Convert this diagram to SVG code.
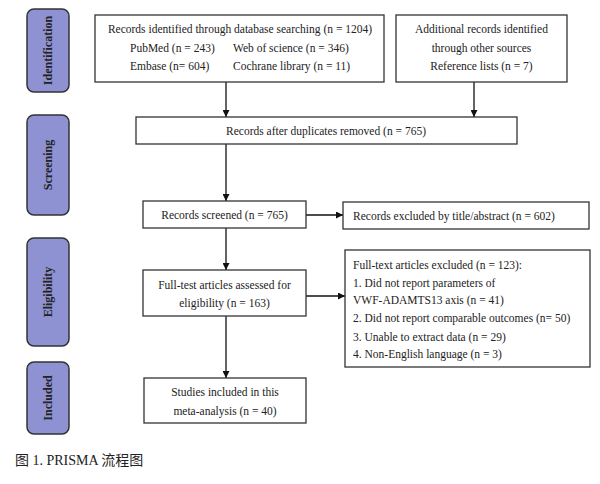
<svg xmlns="http://www.w3.org/2000/svg" width="600" height="484" viewBox="0 0 600 484">
<defs>
<style>
.box{fill:#fff;stroke:#333;stroke-width:1.3}
.lab{fill:#8e92d3;stroke:#333;stroke-width:1.5}
text{font-size:11.5px;fill:#222}
.c{text-anchor:middle}
.lt{font-weight:bold;font-size:12px;text-anchor:middle}
.edge{stroke:#111;stroke-width:1.3;fill:none;marker-end:url(#ah)}
.cap{font-size:14px}
</style>
<marker id="ah" viewBox="0 0 10 10" refX="10" refY="5" markerWidth="7" markerHeight="7" markerUnits="userSpaceOnUse" orient="auto">
<path d="M0,0 L10,5 L0,10 z" fill="#111"/>
</marker>
</defs>
<rect width="600" height="484" fill="#fff"/>
<g font-family="Liberation Serif, Noto Sans CJK SC, serif">
<g id="stage-identification"><rect class="lab" x="27" y="9" width="42" height="83" rx="7"/><text class="lt" transform="translate(52,50.5) rotate(-90)">Identification</text></g>
<g id="stage-screening"><rect class="lab" x="27" y="115" width="42" height="100" rx="7"/><text class="lt" transform="translate(52,165) rotate(-90)">Screening</text></g>
<g id="stage-eligibility"><rect class="lab" x="27" y="238" width="42" height="108" rx="7"/><text class="lt" transform="translate(52,292) rotate(-90)">Eligibility</text></g>
<g id="stage-included"><rect class="lab" x="27" y="362" width="42" height="72" rx="7"/><text class="lt" transform="translate(52,398) rotate(-90)">Included</text></g>

<g id="connectors">
<line class="edge" x1="226" y1="82" x2="226" y2="117"/>
<line class="edge" x1="474" y1="82" x2="474" y2="117"/>
<line class="edge" x1="226" y1="144" x2="226" y2="201"/>
<line class="edge" x1="306" y1="215" x2="343" y2="215"/>
<line class="edge" x1="226" y1="228" x2="226" y2="270"/>
<line class="edge" x1="306" y1="296" x2="345" y2="296"/>
<line class="edge" x1="226" y1="316" x2="226" y2="378"/>
</g>

<g id="db-search"><rect class="box" x="95" y="15" width="289" height="67"/>
<text class="c" x="240" y="33">Records identified through database searching (n = 1204)</text>
<text x="130" y="52">PubMed (n = 243)</text><text x="233" y="52">Web of science (n = 346)</text>
<text x="130" y="70">Embase (n= 604)</text><text x="233" y="70">Cochrane library (n = 11)</text></g>

<g id="other-sources"><rect class="box" x="396" y="15" width="171" height="67"/>
<text class="c" x="481.5" y="33">Additional records identified</text>
<text class="c" x="481.5" y="52">through other sources</text>
<text class="c" x="481.5" y="70">Reference lists (n = 7)</text></g>

<g id="dedup"><rect class="box" x="136" y="117" width="381" height="27"/>
<text class="c" x="326" y="135">Records after duplicates removed (n = 765)</text></g>

<g id="screened"><rect class="box" x="143" y="201" width="163" height="27"/>
<text class="c" x="224.5" y="219">Records screened (n = 765)</text></g>

<g id="excluded-title"><rect class="box" x="343" y="202" width="246" height="27"/>
<text x="353" y="219.5">Records excluded by title/abstract (n = 602)</text></g>

<g id="fulltext"><rect class="box" x="143" y="270" width="163" height="46"/>
<text class="c" x="224.5" y="289">Full-test articles assessed for</text>
<text class="c" x="224.5" y="307">eligibility (n = 163)</text></g>

<g id="excluded-full"><rect class="box" x="345" y="250" width="245" height="117"/>
<text x="353" y="269">Full-text articles excluded (n = 123):</text>
<text x="353" y="287">1. Did not report parameters of</text>
<text x="353" y="304">VWF-ADAMTS13 axis (n = 41)</text>
<text x="353" y="322">2. Did not report comparable outcomes (n= 50)</text>
<text x="353" y="341">3. Unable to extract data (n = 29)</text>
<text x="353" y="358">4. Non-English language (n = 3)</text></g>

<g id="included"><rect class="box" x="144" y="378" width="162" height="45"/>
<text class="c" x="225" y="396">Studies included in this</text>
<text class="c" x="225" y="415">meta-analysis (n = 40)</text></g>

<text class="cap" x="15" y="465">图 1. PRISMA 流程图</text>
</g>
</svg>
